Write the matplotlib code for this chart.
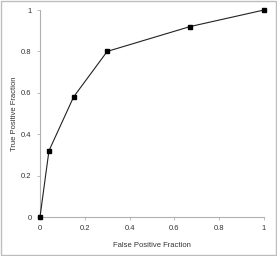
import matplotlib.pyplot as plt
from matplotlib.patches import Rectangle

# ROC curve points
fpf = [0, 0.04, 0.15, 0.3, 0.67, 1]
tpf = [0, 0.32, 0.58, 0.8, 0.92, 1]
ticks = [0, 0.2, 0.4, 0.6, 0.8, 1]
tick_labels = ["0", "0.2", "0.4", "0.6", "0.8", "1"]

plt.rcParams["font.family"] = ["Liberation Sans", "DejaVu Sans"]

fig = plt.figure(figsize=(2.77, 2.56), dpi=100)
ax = fig.add_axes([0.1444, 0.1523, 0.8086, 0.8086])

ax.plot(fpf, tpf, color="#222222", lw=0.8, marker="s", ms=3.2,
        mfc="black", mec="black", clip_on=False, zorder=3)

ax.set_xlim(0, 1)
ax.set_ylim(0, 1)
ax.set_xticks(ticks)
ax.set_xticklabels(tick_labels)
ax.set_yticks(ticks)
ax.set_yticklabels(tick_labels)
for s in ["top", "right"]:
    ax.spines[s].set_visible(False)
for s in ["left", "bottom"]:
    ax.spines[s].set_color("#b0b0b0")
    ax.spines[s].set_linewidth(0.8)
ax.tick_params(colors="#b0b0b0", labelcolor="#333333", labelsize=5.5,
               length=2, width=0.6, pad=4)
ax.set_xlabel("False Positive Fraction", fontsize=5.5, color="#333333", labelpad=7)
ax.set_ylabel("True Positive Fraction", fontsize=5.5, color="#333333", labelpad=2)

# grey frame around the whole chart
fig.patches.append(Rectangle((0.002, 0.002), 0.996, 0.996, transform=fig.transFigure,
                             fill=False, ec="#bdbdbd", lw=1))

fig.savefig("out.png", dpi=100)
